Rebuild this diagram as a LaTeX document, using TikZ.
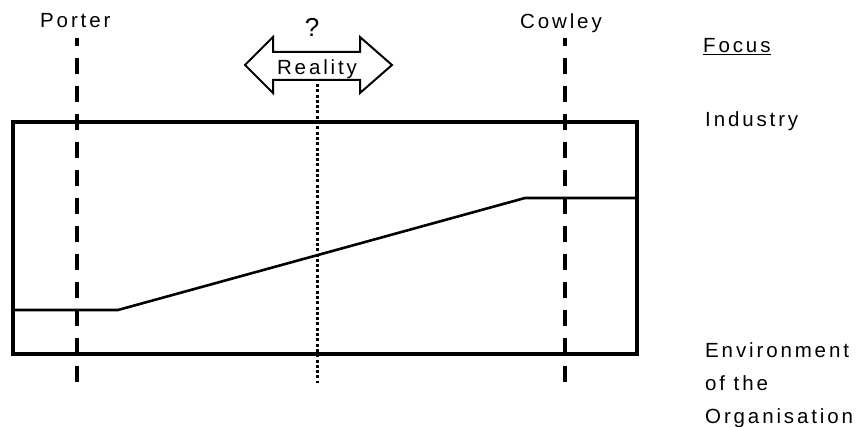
\documentclass[tikz,border=0pt]{standalone}
\usepackage{fontspec}
\setmainfont{Liberation Sans}[LetterSpace=14]
\begin{document}
\begin{tikzpicture}[x=1pt,y=-1pt,
  lbl/.style={inner sep=0pt, font=\fontsize{20.5}{33}\selectfont},
  frame/.style={line width=3.2pt, line join=miter},
  guide/.style={line width=4pt, dash pattern=on 16pt off 12pt},
  dotguide/.style={line width=3pt, dash pattern=on 3pt off 2.3pt},
  arrowshape/.style={line width=2pt, fill=white, line join=miter}]
\useasboundingbox (0,0) rectangle (859,427);
% frame and profile line
\draw[frame] (13,122) rectangle (637,354);
\draw[line width=2.6pt] (13,310) -- (118,310) -- (525,198) -- (637,198);
% guide lines
\coordinate (pt) at (77,38);
\coordinate (pb) at (77,382);
\coordinate (ct) at (565,38);
\coordinate (cb) at (565,382);
\coordinate (rt) at (317,84);
\coordinate (rb) at (317,383);
\draw[guide] (pb) -- (pt);
\draw[guide] (cb) -- (ct);
\draw[dotguide] (rt) -- (rb);
% double arrow
\draw[arrowshape] (245,65) -- (273,37) -- (273,52) -- (360,52) -- (360,37) -- (392,65)
  -- (360,93) -- (360,80) -- (273,80) -- (273,93) -- cycle;
% labels
\node[lbl, anchor=base west] (porter) at (40,28) {Porter};
\node[lbl, anchor=base west] (cowley) at (520,29) {Cowley};
\node[lbl, anchor=base, font=\fontsize{26}{30}\selectfont] (q) at (312,37) {?};
\node[lbl, anchor=base] (reality) at (317,75) {Reality};
\node[lbl, anchor=base west] (focus) at (703,53) {\underline{Focus}};
\node[lbl, anchor=base west] (industry) at (705,127) {Industry};
\node[lbl, anchor=base west] (env1) at (705,357) {Environment};
\node[lbl, anchor=base west] (env2) at (705,390) {of the};
\node[lbl, anchor=base west] (env3) at (705,423) {Organisation};
\end{tikzpicture}
\end{document}
